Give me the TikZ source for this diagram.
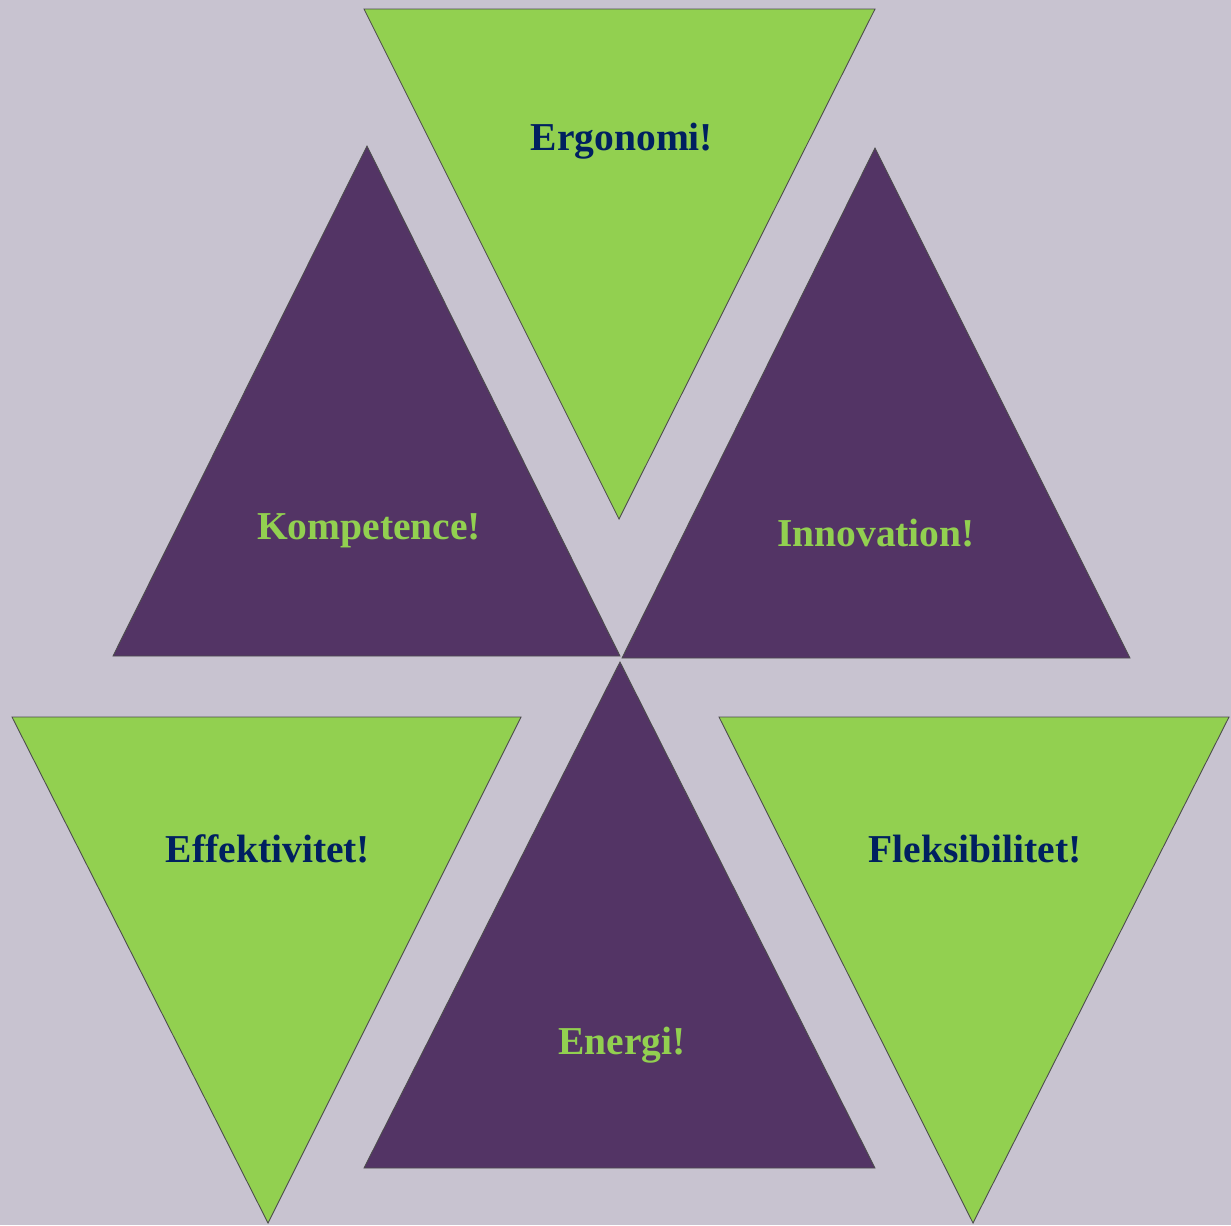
\documentclass[tikz,border=0pt]{standalone}
\usepackage{fontspec}
\setmainfont{Liberation Serif}
\usepackage{xcolor}
\usepackage{tikz}
\usetikzlibrary{positioning}
\usetikzlibrary{calc}
\definecolor{bgcol}{HTML}{C8C3D0}
\definecolor{leafgreen}{HTML}{92D050}
\definecolor{plum}{HTML}{533465}
\definecolor{navy}{HTML}{002060}
\tikzstyle{greentri}=[fill=leafgreen,draw=black!70,line width=0.5pt]
\tikzstyle{plumtri}=[fill=plum,draw=black!70,line width=0.5pt]
\tikzstyle{word} = [font=\fontsize{22.5}{25}\selectfont\bfseries,inner sep=0pt]
\tikzset{onplum/.style={word,text=leafgreen}, ongreen/.style={word,text=navy}}

\begin{document}
\begin{tikzpicture}[x=0.02cm,y=-0.02cm]

  \def\u{1};
  \def\dy{4};
  \fill[bgcol] (0,0) rectangle (1231,1225);
  \useasboundingbox (0,0) rectangle (1231,1225);

   % green triangles, point down
   \foreach \ax/\ay/\bx/\by/\cx/\cy in {364/9/875/9/619/519, 12/717/521/717/268/1223, 719/717/1229/717/973/1223}
          \path[greentri] (\ax*\u,\ay) -- (\bx*\u,\by) -- (\cx*\u,\cy) -- cycle;

   % plum triangles, point up
   \foreach \ax/\ay/\bx/\by/\cx/\cy in {367/146/113/656/620/656, 875/148/622/658/1130/658, 620/662/364/1168/875/1168}
          \path[plumtri] (\ax*\u,\ay) -- (\bx*\u,\by) -- (\cx*\u,\cy) -- cycle;

   \foreach \x/\y/\name/\label in {622/137/ergo/Ergonomi!, 268/845/effek/Effektivitet!, 975/845/fleks/Fleksibilitet!}
          \node[ongreen] (\name) at (\x*\u, \y+\dy) {\label};

   \foreach \x/\y/\name/\label in {369/527/kompe/Kompetence!, 876/529/innov/Innovation!, 622/1041/energi/Energi!}
          \node[onplum] (\name) at (\x*\u, \y+\dy) {\label};

   \end{tikzpicture}
\end{document}
